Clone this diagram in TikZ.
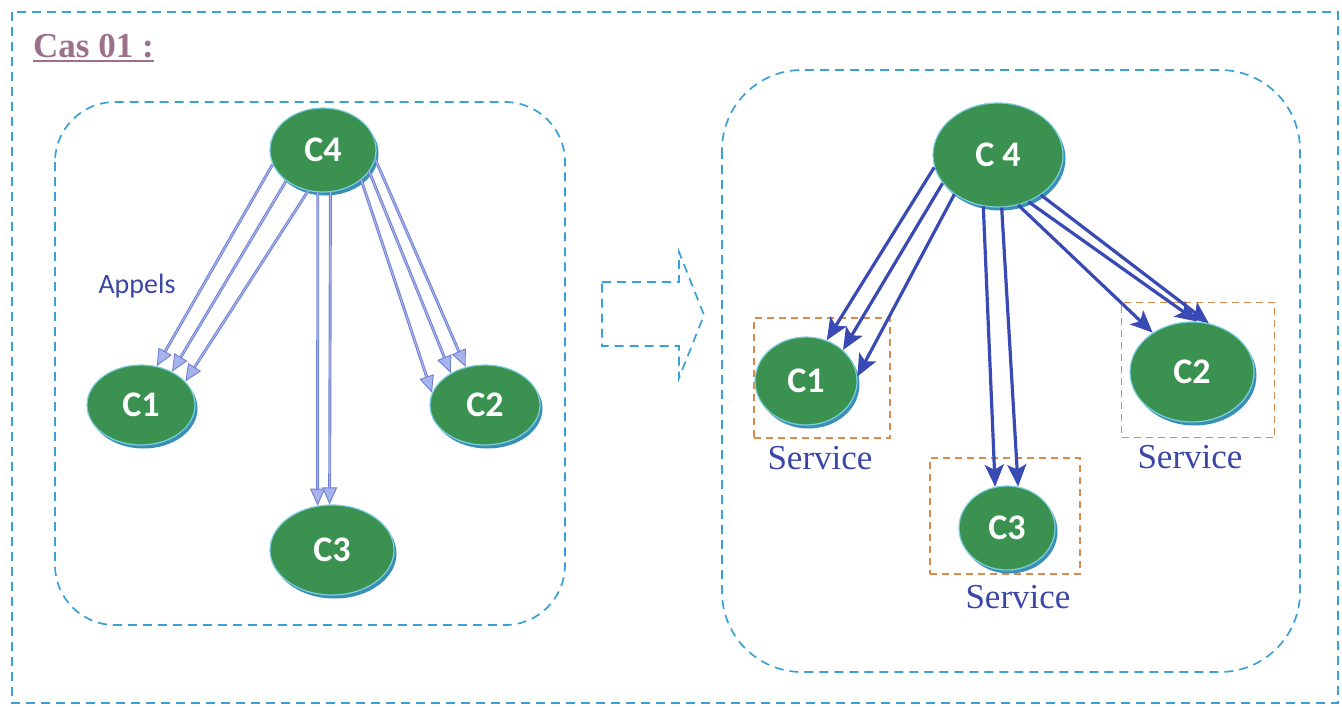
\documentclass[tikz,border=0pt]{standalone}
\usepackage{fontspec}
\setmainfont{Liberation Serif}
\newfontfamily\calibri{Carlito}
\usepackage{tikz}
\usetikzlibrary{positioning,shapes.geometric,shadows,arrows.meta}
\definecolor{frameblue}{HTML}{3AA0D5}
\definecolor{boxorange}{HTML}{D98A4E}
\definecolor{compgreen}{HTML}{3A9150}
\definecolor{compedge}{HTML}{7CCFE0}
\definecolor{compshadow}{HTML}{3A8FB5}
\definecolor{appelblue}{HTML}{6F7FD0}
\definecolor{appelhead}{HTML}{A7B3EC}
\definecolor{calldark}{HTML}{3A4AB5}
\definecolor{textblue}{HTML}{3A47A6}
\definecolor{titlemauve}{HTML}{9A7189}

\begin{document}
\begin{tikzpicture}[x=1pt, y=-1pt,
    frame/.style={draw=frameblue, line width=1.7pt, dash pattern=on 9pt off 6pt},
    svcbox/.style={draw=boxorange, line width=1.4pt, dash pattern=on 7pt off 5pt, inner sep=0pt},
    comp/.style={ellipse, fill=compgreen, draw=compedge, line width=1.2pt, inner sep=0pt,
      text=white, font={\calibri\bfseries\fontsize{36}{40}\selectfont},
      drop shadow={shadow xshift=2.5pt, shadow yshift=-3.5pt, fill=compshadow, opacity=1}},
    appel/.style={draw=appelblue, line width=0.9pt, double=appelhead, double distance=1.1pt,
      -{Triangle[length=17pt,width=15pt,fill=appelhead]}},
    svcall/.style={draw=calldark, line width=3.2pt,
      -{Stealth[length=22pt,width=19pt,inset=5pt]}},
    svclabel/.style={text=textblue, font=\fontsize{35}{40}\selectfont, inner sep=0pt}]
  \useasboundingbox (0,0) rectangle (1342,707);
  \draw[frame] (12,12) rectangle (1338,703);
  \node[text=titlemauve, font=\bfseries\fontsize{35}{40}\selectfont, anchor=west,
    inner xsep=0pt, inner ysep=3pt] (title) at (33,46) {Cas 01 :};
  \draw[titlemauve, line width=1.2pt] (title.south west) -- (title.south east);

  \draw[frame, rounded corners=60pt] (55,102) rectangle (565,625);
  \node[comp, minimum width=106pt, minimum height=84pt] (lc4) at (323,150) {C4};
  \node[comp, minimum width=108pt, minimum height=80pt] (lc1) at (141,405) {C1};
  \node[comp, minimum width=110pt, minimum height=80pt] (lc2) at (485,405) {C2};
  \node[comp, minimum width=124pt, minimum height=90pt] (lc3) at (332,550) {C3};
  \node[text=textblue, font={\calibri\fontsize{28}{32}\selectfont}, inner sep=0pt] (appels) at (137,286) {Appels};
  \draw[appel] (lc4.196) -- (lc1.68);
  \draw[appel] (lc4.220) -- (lc1.47);
  \draw[appel] (lc4.250) -- (lc1.28);
  \draw[appel] (lc4.263) -- (lc3.108);
  \draw[appel] (lc4.280) -- (lc3.93);
  \draw[appel] (lc4.322) -- (lc2.167);
  \draw[appel] (lc4.335) -- (lc2.137);
  \draw[appel] (lc4.350) -- (lc2.117);

  \draw[frame] (602,282) -- (679,282) -- (679,252) -- (704,315) -- (679,378)
    -- (679,346) -- (602,346) -- cycle;

  \draw[frame, rounded corners=80pt] (722,70) rectangle (1300,672);
  \node[svcbox, minimum width=136pt, minimum height=120pt] (box1) at (822,378) {};
  \node[svcbox, minimum width=153pt, minimum height=135pt] (box2) at (1198,370) {};
  \node[svcbox, minimum width=150pt, minimum height=116pt] (box3) at (1005,516) {};
  \node[comp, minimum width=130pt, minimum height=104pt] (rc4) at (998,155) {C 4};
  \node[comp, minimum width=102pt, minimum height=88pt] (rc1) at (806,381) {C1};
  \node[comp, minimum width=124pt, minimum height=100pt] (rc2) at (1192,372) {C2};
  \node[comp, minimum width=96pt, minimum height=84pt] (rc3) at (1007,528) {C3};
  \node[svclabel, below=7pt of box1.south, xshift=-2pt] (svc1) {Service};
  \node[svclabel, below=7pt of box2.south, xshift=-8pt] (svc2) {Service};
  \node[svclabel, below=10pt of box3.south, xshift=13pt] (svc3) {Service};
  \draw[svcall] (rc4.191) -- (rc1.63);
  \draw[svcall] (rc4.207) -- (rc1.40);
  \draw[svcall] (rc4.222) -- (rc1.5);
  \draw[svcall] (rc4.254) -- (rc3.106);
  \draw[svcall] (rc4.274) -- (rc3.75);
  \draw[svcall] (rc4.292) -- (rc2.135);
  \draw[svcall] (rc4.303) -- (rc2.84);
  \draw[svcall] (rc4.317) -- (rc2.71);
\end{tikzpicture}
\end{document}
